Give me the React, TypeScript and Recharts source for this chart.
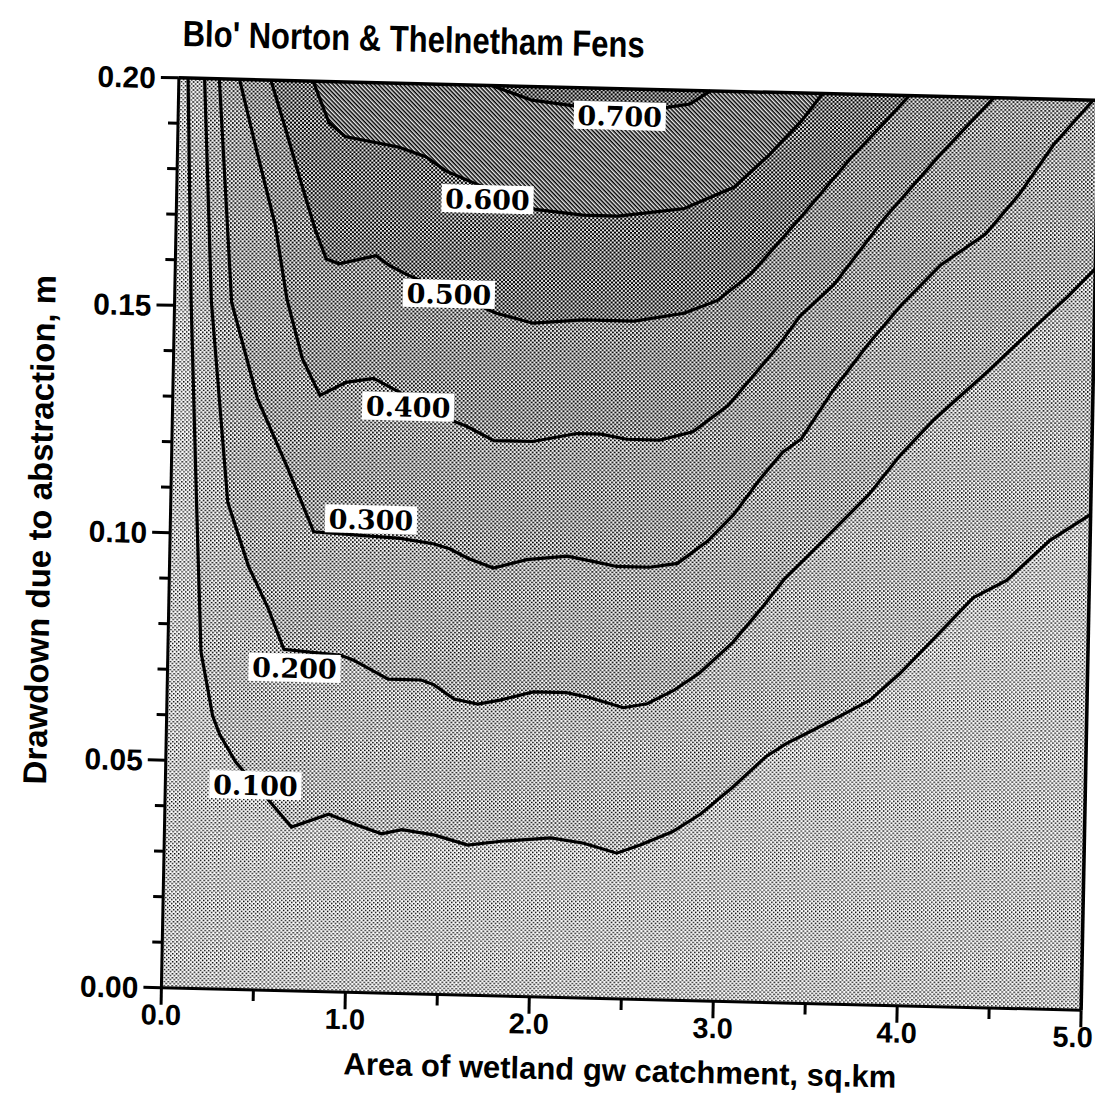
import React from 'react';
import { ComposedChart, Area, Scatter, XAxis, YAxis, Label, ReferenceLine } from 'recharts';

type Pt = { x: number; y: number };
const pts = (rows: number[][]): Pt[] => rows.map(([x, y]) => ({ x, y }));

// contour lines (x = area sq.km, y = drawdown m)
const contour100 = pts([
  [0.05, 0.2], [0.09, 0.151], [0.14, 0.107], [0.18, 0.074], [0.25, 0.06], [0.29, 0.056], [0.38, 0.05],
  [0.58, 0.041], [0.69, 0.036], [0.89, 0.039], [1.03, 0.037], [1.18, 0.035], [1.29, 0.036], [1.47, 0.035],
  [1.65, 0.033], [1.83, 0.034], [2.1, 0.035], [2.28, 0.034], [2.46, 0.032], [2.59, 0.034], [2.76, 0.037],
  [2.91, 0.041], [3.08, 0.047], [3.26, 0.054], [3.37, 0.057], [3.51, 0.06], [3.69, 0.064], [3.82, 0.067],
  [3.98, 0.073], [4.21, 0.083], [4.37, 0.09], [4.55, 0.094], [4.78, 0.103], [5.0, 0.109],
]);
const contour200 = pts([
  [0.14, 0.2], [0.2, 0.151], [0.31, 0.107], [0.43, 0.093], [0.54, 0.084], [0.63, 0.075], [0.94, 0.074],
  [1.01, 0.073], [1.2, 0.069], [1.38, 0.069], [1.45, 0.068], [1.56, 0.065], [1.69, 0.064], [1.81, 0.065],
  [1.99, 0.067], [2.17, 0.067], [2.3, 0.066], [2.48, 0.064], [2.61, 0.065], [2.75, 0.068], [2.89, 0.072],
  [3.07, 0.079], [3.21, 0.086], [3.34, 0.093], [3.46, 0.098], [3.6, 0.104], [3.79, 0.112], [3.96, 0.121],
  [4.14, 0.129], [4.43, 0.14], [4.68, 0.15], [4.86, 0.157], [5.0, 0.163],
]);
const contour300 = pts([
  [0.22, 0.2], [0.31, 0.151], [0.46, 0.13], [0.63, 0.115], [0.78, 0.101], [1.25, 0.1], [1.43, 0.099],
  [1.52, 0.098], [1.62, 0.096], [1.76, 0.094], [1.94, 0.096], [2.16, 0.097], [2.3, 0.096], [2.43, 0.095],
  [2.61, 0.095], [2.76, 0.096], [2.92, 0.101], [3.06, 0.107], [3.2, 0.115], [3.32, 0.121], [3.42, 0.124],
  [3.59, 0.135], [3.77, 0.145], [3.95, 0.154], [4.16, 0.163], [4.4, 0.17], [4.58, 0.179], [4.76, 0.19],
  [4.97, 0.2],
]);
const contour400 = pts([
  [0.33, 0.2], [0.42, 0.186], [0.54, 0.168], [0.61, 0.152], [0.7, 0.139], [0.8, 0.131], [0.94, 0.134],
  [1.09, 0.135], [1.53, 0.126], [1.6, 0.125], [1.75, 0.122], [1.96, 0.122], [2.2, 0.124], [2.33, 0.124],
  [2.47, 0.123], [2.65, 0.123], [2.83, 0.125], [3.02, 0.131], [3.14, 0.137], [3.28, 0.144], [3.4, 0.151],
  [3.58, 0.158], [3.85, 0.173], [4.14, 0.187], [4.43, 0.2],
]);
const contour500 = pts([
  [0.5, 0.2], [0.58, 0.19], [0.68, 0.177], [0.76, 0.167], [0.82, 0.161], [0.89, 0.16], [1.09, 0.162],
  [1.16, 0.16], [1.26, 0.158], [1.75, 0.15], [1.95, 0.148], [2.22, 0.149], [2.5, 0.149], [2.77, 0.151],
  [2.95, 0.154], [3.13, 0.16], [3.4, 0.173], [3.66, 0.186], [3.84, 0.194], [3.97, 0.2],
]);
const contour600 = pts([
  [0.73, 0.2], [0.82, 0.191], [0.91, 0.188], [1.2, 0.186], [1.35, 0.184], [1.46, 0.181], [1.95, 0.173],
  [2.21, 0.172], [2.4, 0.172], [2.58, 0.173], [2.76, 0.174], [3.03, 0.179], [3.21, 0.186], [3.39, 0.194],
  [3.5, 0.2],
]);
const contour700 = pts([
  [1.7, 0.2], [1.92, 0.197], [2.14, 0.196], [2.64, 0.196], [2.78, 0.197], [2.89, 0.2],
]);

const contourLabels = [
  { x: 2.4, y: 0.194, text: '0.700' },
  { x: 1.69, y: 0.175, text: '0.600' },
  { x: 1.49, y: 0.154, text: '0.500' },
  { x: 1.28, y: 0.129, text: '0.400' },
  { x: 1.09, y: 0.104, text: '0.300' },
  { x: 0.69, y: 0.071, text: '0.200' },
  { x: 0.49, y: 0.045, text: '0.100' },
];

const xTicks = [0, 0.5, 1, 1.5, 2, 2.5, 3, 3.5, 4, 4.5, 5];
const xMajor = [0, 1, 2, 3, 4, 5];
const yTicks = [
  0, 0.01, 0.02, 0.03, 0.04, 0.05, 0.06, 0.07, 0.08, 0.09, 0.1,
  0.11, 0.12, 0.13, 0.14, 0.15, 0.16, 0.17, 0.18, 0.19, 0.2,
];
const yMajor = [0, 0.05, 0.1, 0.15, 0.2];
const plotFrame = pts([[0, 0], [5, 0]]);

// filled bands, lowest first
const bands = [
  { data: contour100, fill: 'url(#lev1)' },
  { data: contour200, fill: 'url(#lev2)' },
  { data: contour300, fill: 'url(#lev3)' },
  { data: contour400, fill: 'url(#lev4)' },
  { data: contour500, fill: 'url(#lev5)' },
  { data: contour600, fill: 'url(#lev6)' },
  { data: contour700, fill: 'url(#lev7)' },
];

const sans = '"Liberation Sans", Arial, Helvetica, sans-serif';
const tickFont = { fontFamily: sans, fontWeight: 700, fontSize: 30, fill: '#000' };

const Stipple = ({ id, dot, bg }: { id: string; dot: number; bg: string }) => (
  <pattern id={id} width={4} height={4} patternUnits="userSpaceOnUse">
    <rect width={4} height={4} fill={bg} />
    <rect x={0} y={0} width={dot} height={dot} fill="#000" />
    <rect x={2} y={2} width={dot} height={dot} fill="#000" />
  </pattern>
);

const XTick = (props: any) => {
  const { x, y, payload } = props;
  const v = payload.value as number;
  const major = xMajor.includes(v);
  return (
    <g>
      <line x1={x} x2={x} y1={y} y2={y + (major ? 17 : 11)} stroke="#000" strokeWidth={3} />
      {major && (
        <text x={x} y={y + 37} dx={v === 5 ? -8 : 0} textAnchor="middle" style={{ ...tickFont, fontSize: 29 }}>
          {v.toFixed(1)}
        </text>
      )}
    </g>
  );
};

const YTick = (props: any) => {
  const { x, y, payload } = props;
  const v = payload.value as number;
  const major = yMajor.includes(v);
  return (
    <g>
      <line x1={x - (major ? 18 : 10)} x2={x} y1={y} y2={y} stroke="#000" strokeWidth={3} />
      {major && (
        <text x={x - 23} y={y} dy="0.36em" textAnchor="end" style={tickFont}>
          {v.toFixed(2)}
        </text>
      )}
    </g>
  );
};

const LabelBox = (props: any) => {
  const { cx, cy, payload } = props;
  return (
    <g>
      <rect x={cx - 46} y={cy - 14} width={92} height={28} fill="#fff" />
      <text
        x={cx}
        y={cy}
        dy="0.37em"
        textAnchor="middle"
        style={{ fontFamily: '"DejaVu Serif", serif', fontWeight: 700, fontSize: 27, fill: '#000' }}
      >
        {payload.text}
      </text>
    </g>
  );
};

export default function App() {
  const axisLine = { stroke: '#000', strokeWidth: 3 };
  return (
    <div style={{ width: 1095, height: 1103, overflow: 'hidden' }}>
      <div
        style={{
          position: 'relative',
          width: 1130,
          height: 1103,
          transform: 'rotate(1.4deg) skewX(0.3deg)',
          transformOrigin: '621px 536px',
        }}
      >
        <div
          style={{
            position: 'absolute',
            left: 165,
            top: 24,
            fontFamily: sans,
            fontWeight: 700,
            fontSize: 31,
            lineHeight: '31px',
            whiteSpace: 'nowrap',
            transform: 'scaleY(1.18)',
            transformOrigin: 'left bottom',
            zIndex: 1,
          }}
        >
          Blo' Norton &amp; Thelnetham Fens
        </div>
        <ComposedChart width={1130} height={1103} margin={{ top: 81, right: 48, bottom: 0, left: 0 }}>
          <defs>
            <Stipple id="lev0" dot={1.45} bg="#f8f8f8" />
            <Stipple id="lev1" dot={1.55} bg="#f6f6f6" />
            <Stipple id="lev2" dot={1.65} bg="#f4f4f4" />
            <Stipple id="lev3" dot={1.72} bg="#f0f0f0" />
            <Stipple id="lev4" dot={1.8} bg="#ececec" />
            <Stipple id="lev5" dot={2} bg="#e6e6e6" />
            <pattern id="lev6" width={3} height={3} patternUnits="userSpaceOnUse" patternTransform="rotate(45)">
              <rect width={3} height={3} fill="#e8e8e8" />
              <rect width={3} height={1.5} fill="#000" />
            </pattern>
            <Stipple id="lev7" dot={2} bg="#cfcfcf" />
          </defs>
          <XAxis
            dataKey="x"
            type="number"
            domain={[0, 5]}
            ticks={xTicks}
            interval={0}
            tick={XTick}
            tickLine={false}
            tickSize={0}
            tickMargin={0}
            axisLine={axisLine}
            height={112}
          >
            <Label
              value="Area of wetland gw catchment, sq.km"
              position="insideBottom"
              offset={30}
              style={{ fontFamily: sans, fontWeight: 700, fontSize: 31, fill: '#000' }}
            />
          </XAxis>
          <YAxis
            dataKey="y"
            type="number"
            domain={[0, 0.2]}
            ticks={yTicks}
            interval={0}
            tick={YTick}
            tickLine={false}
            tickSize={0}
            tickMargin={0}
            axisLine={axisLine}
            width={162}
          >
            <Label
              value="Drawdown due to abstraction, m"
              angle={-90}
              position="insideLeft"
              offset={31}
              style={{ fontFamily: sans, fontWeight: 700, fontSize: 33, fill: '#000', textAnchor: 'middle' }}
            />
          </YAxis>

          <Area
            data={plotFrame}
            dataKey="y"
            type="linear"
            baseValue={0.2}
            fill="url(#lev0)"
            fillOpacity={1}
            stroke="none"
            dot={false}
            activeDot={false}
            isAnimationActive={false}
          />
          {bands.map((b, i) => (
            <Area
              key={i}
              data={b.data}
              dataKey="y"
              type="linear"
              baseValue={0.2}
              fill={b.fill}
              fillOpacity={1}
              stroke="#000"
              strokeWidth={3.2}
              dot={false}
              activeDot={false}
              isAnimationActive={false}
            />
          ))}
          <ReferenceLine y={0.2} stroke="#000" strokeWidth={3.5} />
          <ReferenceLine x={5} stroke="#000" strokeWidth={3.5} />
          <Scatter data={contourLabels} shape={LabelBox} isAnimationActive={false} />
        </ComposedChart>
      </div>
    </div>
  );
}
